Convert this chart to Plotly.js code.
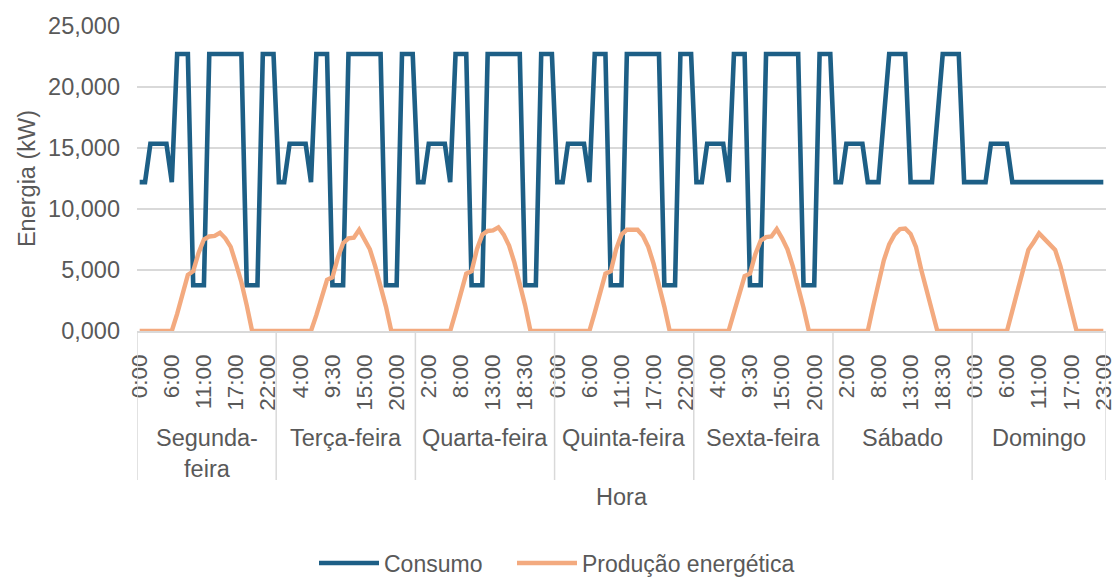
<!DOCTYPE html>
<html>
<head>
<meta charset="utf-8">
<script src="https://cdn.plot.ly/plotly-3.0.1.min.js"></script>
<style>html,body{margin:0;padding:0;background:#fff;}#chart{width:1116px;height:578px;}</style>
</head>
<body>
<div id="chart"></div>
<script>
// ---- Data ----
const days = ["Segunda-feira", "Terça-feira", "Quarta-feira", "Quinta-feira", "Sexta-feira", "Sábado", "Domingo"];
const dayLabels = ["Segunda-<br>feira", "Terça-feira", "Quarta-feira", "Quinta-feira", "Sexta-feira", "Sábado", "Domingo"];

const timesWeekday = ["0:00","1:00","2:00","3:00","4:00","5:00","6:00","7:00","8:00","9:00","9:30","10:00","11:00","12:00","13:00","14:00","15:00","16:00","17:00","18:00","18:30","19:00","20:00","21:00","22:00","23:00"];
const timesSunday  = ["0:00","1:00","2:00","3:00","4:00","5:00","6:00","7:00","8:00","9:00","9:30","10:00","11:00","12:00","13:00","14:00","15:00","16:00","17:00","18:00","19:00","20:00","21:00","22:00","23:00"];

// Consumo (kW)
const consumoSegunda = [12200,12200,15350,15350,15350,15350,12200,22700,22700,22700,3750,3750,3750,22700,22700,22700,22700,22700,22700,22700,3750,3750,3750,22700,22700,22700];
const consumoTerca   = [12200,12200,15350,15350,15350,15350,12200,22700,22700,22700,3750,3750,3750,22700,22700,22700,22700,22700,22700,22700,3750,3750,3750,22700,22700,22700];
const consumoQuarta  = [12200,12200,15350,15350,15350,15350,12200,22700,22700,22700,3750,3750,3750,22700,22700,22700,22700,22700,22700,22700,3750,3750,3750,22700,22700,22700];
const consumoQuinta  = [12200,12200,15350,15350,15350,15350,12200,22700,22700,22700,3750,3750,3750,22700,22700,22700,22700,22700,22700,22700,3750,3750,3750,22700,22700,22700];
const consumoSexta   = [12200,12200,15350,15350,15350,15350,12200,22700,22700,22700,3750,3750,3750,22700,22700,22700,22700,22700,22700,22700,3750,3750,3750,22700,22700,22700];
const consumoSabado  = [12200,12200,15350,15350,15350,15350,12200,12200,12200,17450,22700,22700,22700,22700,12200,12200,12200,12200,12200,17450,22700,22700,22700,22700,12200,12200];
const consumoDomingo = [12200,12200,12200,15350,15350,15350,15350,12200,12200,12200,12200,12200,12200,12200,12200,12200,12200,12200,12200,12200,12200,12200,12200,12200,12200];

// Produção energética (kW)
const producaoSegunda = [0,0,0,0,0,0,0,1400,3000,4600,4900,6400,7500,7750,7800,8050,7600,6900,5500,4000,2100,0,0,0,0,0];
const producaoTerca   = [0,0,0,0,0,0,0,1300,2800,4200,4400,6000,7200,7600,7650,8300,7500,6700,5300,3800,2000,0,0,0,0,0];
const producaoQuarta  = [0,0,0,0,0,0,0,1500,3100,4700,4900,6700,7900,8200,8250,8500,7900,7000,5600,4000,2100,0,0,0,0,0];
const producaoQuinta  = [0,0,0,0,0,0,0,1500,3100,4700,4900,6700,7900,8300,8300,8300,7800,6900,5500,3900,2000,0,0,0,0,0];
const producaoSexta   = [0,0,0,0,0,0,0,1500,3000,4500,4700,6300,7400,7700,7750,8350,7600,6700,5300,3700,1900,0,0,0,0,0];
const producaoSabado  = [0,0,0,0,0,0,0,2000,4100,5800,7100,7900,8350,8400,7950,6900,5000,3300,1600,0,0,0,0,0,0,0];
const producaoDomingo = [0,0,0,0,0,0,0,1650,3300,5000,6650,7300,8000,7550,7100,6650,5300,3500,1750,0,0,0,0,0,0];

const yTickVals  = [0, 5000, 10000, 15000, 20000, 25000];
const yTickText  = ["0,000", "5,000", "10,000", "15,000", "20,000", "25,000"];

// ---- Build the category axis ----
const dayTimes = [timesWeekday, timesWeekday, timesWeekday, timesWeekday, timesWeekday, timesWeekday, timesSunday];
const consumoDays = [consumoSegunda, consumoTerca, consumoQuarta, consumoQuinta, consumoSexta, consumoSabado, consumoDomingo];
const producaoDays = [producaoSegunda, producaoTerca, producaoQuarta, producaoQuinta, producaoSexta, producaoSabado, producaoDomingo];

const xCats = [], xTimes = [], consumo = [], producao = [];
const dayStart = [];
days.forEach((d, di) => {
  dayStart.push(xCats.length);
  dayTimes[di].forEach((t, ti) => {
    xCats.push(d + " " + t);
    xTimes.push(t);
    consumo.push(consumoDays[di][ti]);
    producao.push(producaoDays[di][ti]);
  });
});
const nCats = xCats.length;
const LABEL_EVERY = 6;
const tickVals = [], tickText = [];
for (let i = 0; i < nCats; i += LABEL_EVERY) { tickVals.push(xCats[i]); tickText.push(xTimes[i]); }

const FONT = "Liberation Sans, Arial, Helvetica, sans-serif";
const FS = 23.5;
const GREY = "#595959";
const GRID = "#d9d9d9";

const W = 1116, H = 578;
const mL = 137, mR = 10;
const plotTop = 26, plotBottom = 331, plotH = plotBottom - plotTop;
const plotW = W - mL - mR;
const py = (px) => (plotBottom - px) / plotH;
const pxp = (px) => (px - mL) / plotW;

const shapes = [];
const annotations = [];
for (let di = 0; di <= days.length; di++) {
  const xs = (di < days.length ? dayStart[di] : nCats) - 0.5;
  shapes.push({type: "line", xref: "x", yref: "paper", x0: xs, x1: xs, y0: 0, y1: py(480),
               line: {color: GRID, width: 1.5}});
}
days.forEach((d, di) => {
  const s = dayStart[di] - 0.5;
  const e = (di + 1 < days.length ? dayStart[di + 1] : nCats) - 0.5;
  annotations.push({xref: "x", yref: "paper", x: (s + e) / 2, y: py(423), yanchor: "top", xanchor: "center",
                    text: dayLabels[di], showarrow: false, font: {family: FONT, size: FS, color: GREY}});
});

const traces = [
  {x: xCats, y: consumo, type: "scatter", mode: "lines", name: "Consumo", legend: "legend",
   line: {color: "#1d5f86", width: 4.6}},
  {x: xCats, y: producao, type: "scatter", mode: "lines", name: "Produção energética", legend: "legend2",
   line: {color: "#f3aa7f", width: 4.4}}
];

const legendStyle = {orientation: "h", xanchor: "left", yanchor: "middle", y: py(563),
                     font: {family: FONT, size: 23, color: GREY}, itemwidth: 60, bgcolor: "rgba(0,0,0,0)"};

const layout = {
  width: W, height: H,
  margin: {l: mL, r: mR, t: plotTop, b: H - plotBottom, pad: 0, autoexpand: false},
  paper_bgcolor: "#fff", plot_bgcolor: "#fff",
  font: {family: FONT, size: FS, color: GREY},
  showlegend: true,
  legend: Object.assign({}, legendStyle, {x: pxp(314)}),
  legend2: Object.assign({}, legendStyle, {x: pxp(512)}),
  xaxis: {type: "category", range: [-0.5, nCats - 0.5], tickmode: "array", tickvals: tickVals, ticktext: tickText,
          tickangle: -90, tickfont: {family: FONT, size: 22.5, color: GREY}, ticks: "", showgrid: false,
          showline: true, linecolor: GRID, linewidth: 1.5, zeroline: false, fixedrange: true,
          ticklabelstandoff: 13,
          title: {text: "Hora", font: {family: FONT, size: FS, color: GREY}, standoff: 78}},
  yaxis: {range: [0, 25000], tickmode: "array", tickvals: yTickVals, ticktext: yTickText,
          tickfont: {family: FONT, size: FS, color: GREY}, showgrid: true, gridcolor: GRID, gridwidth: 1.3,
          zeroline: false, showline: false, ticks: "", fixedrange: true, ticklabelstandoff: 16,
          title: {text: "Energia (kW)", font: {family: FONT, size: FS, color: GREY}, standoff: 5}},
  shapes: shapes,
  annotations: annotations
};

Plotly.newPlot("chart", traces, layout, {displayModeBar: false, staticPlot: true});
</script>
</body>
</html>
